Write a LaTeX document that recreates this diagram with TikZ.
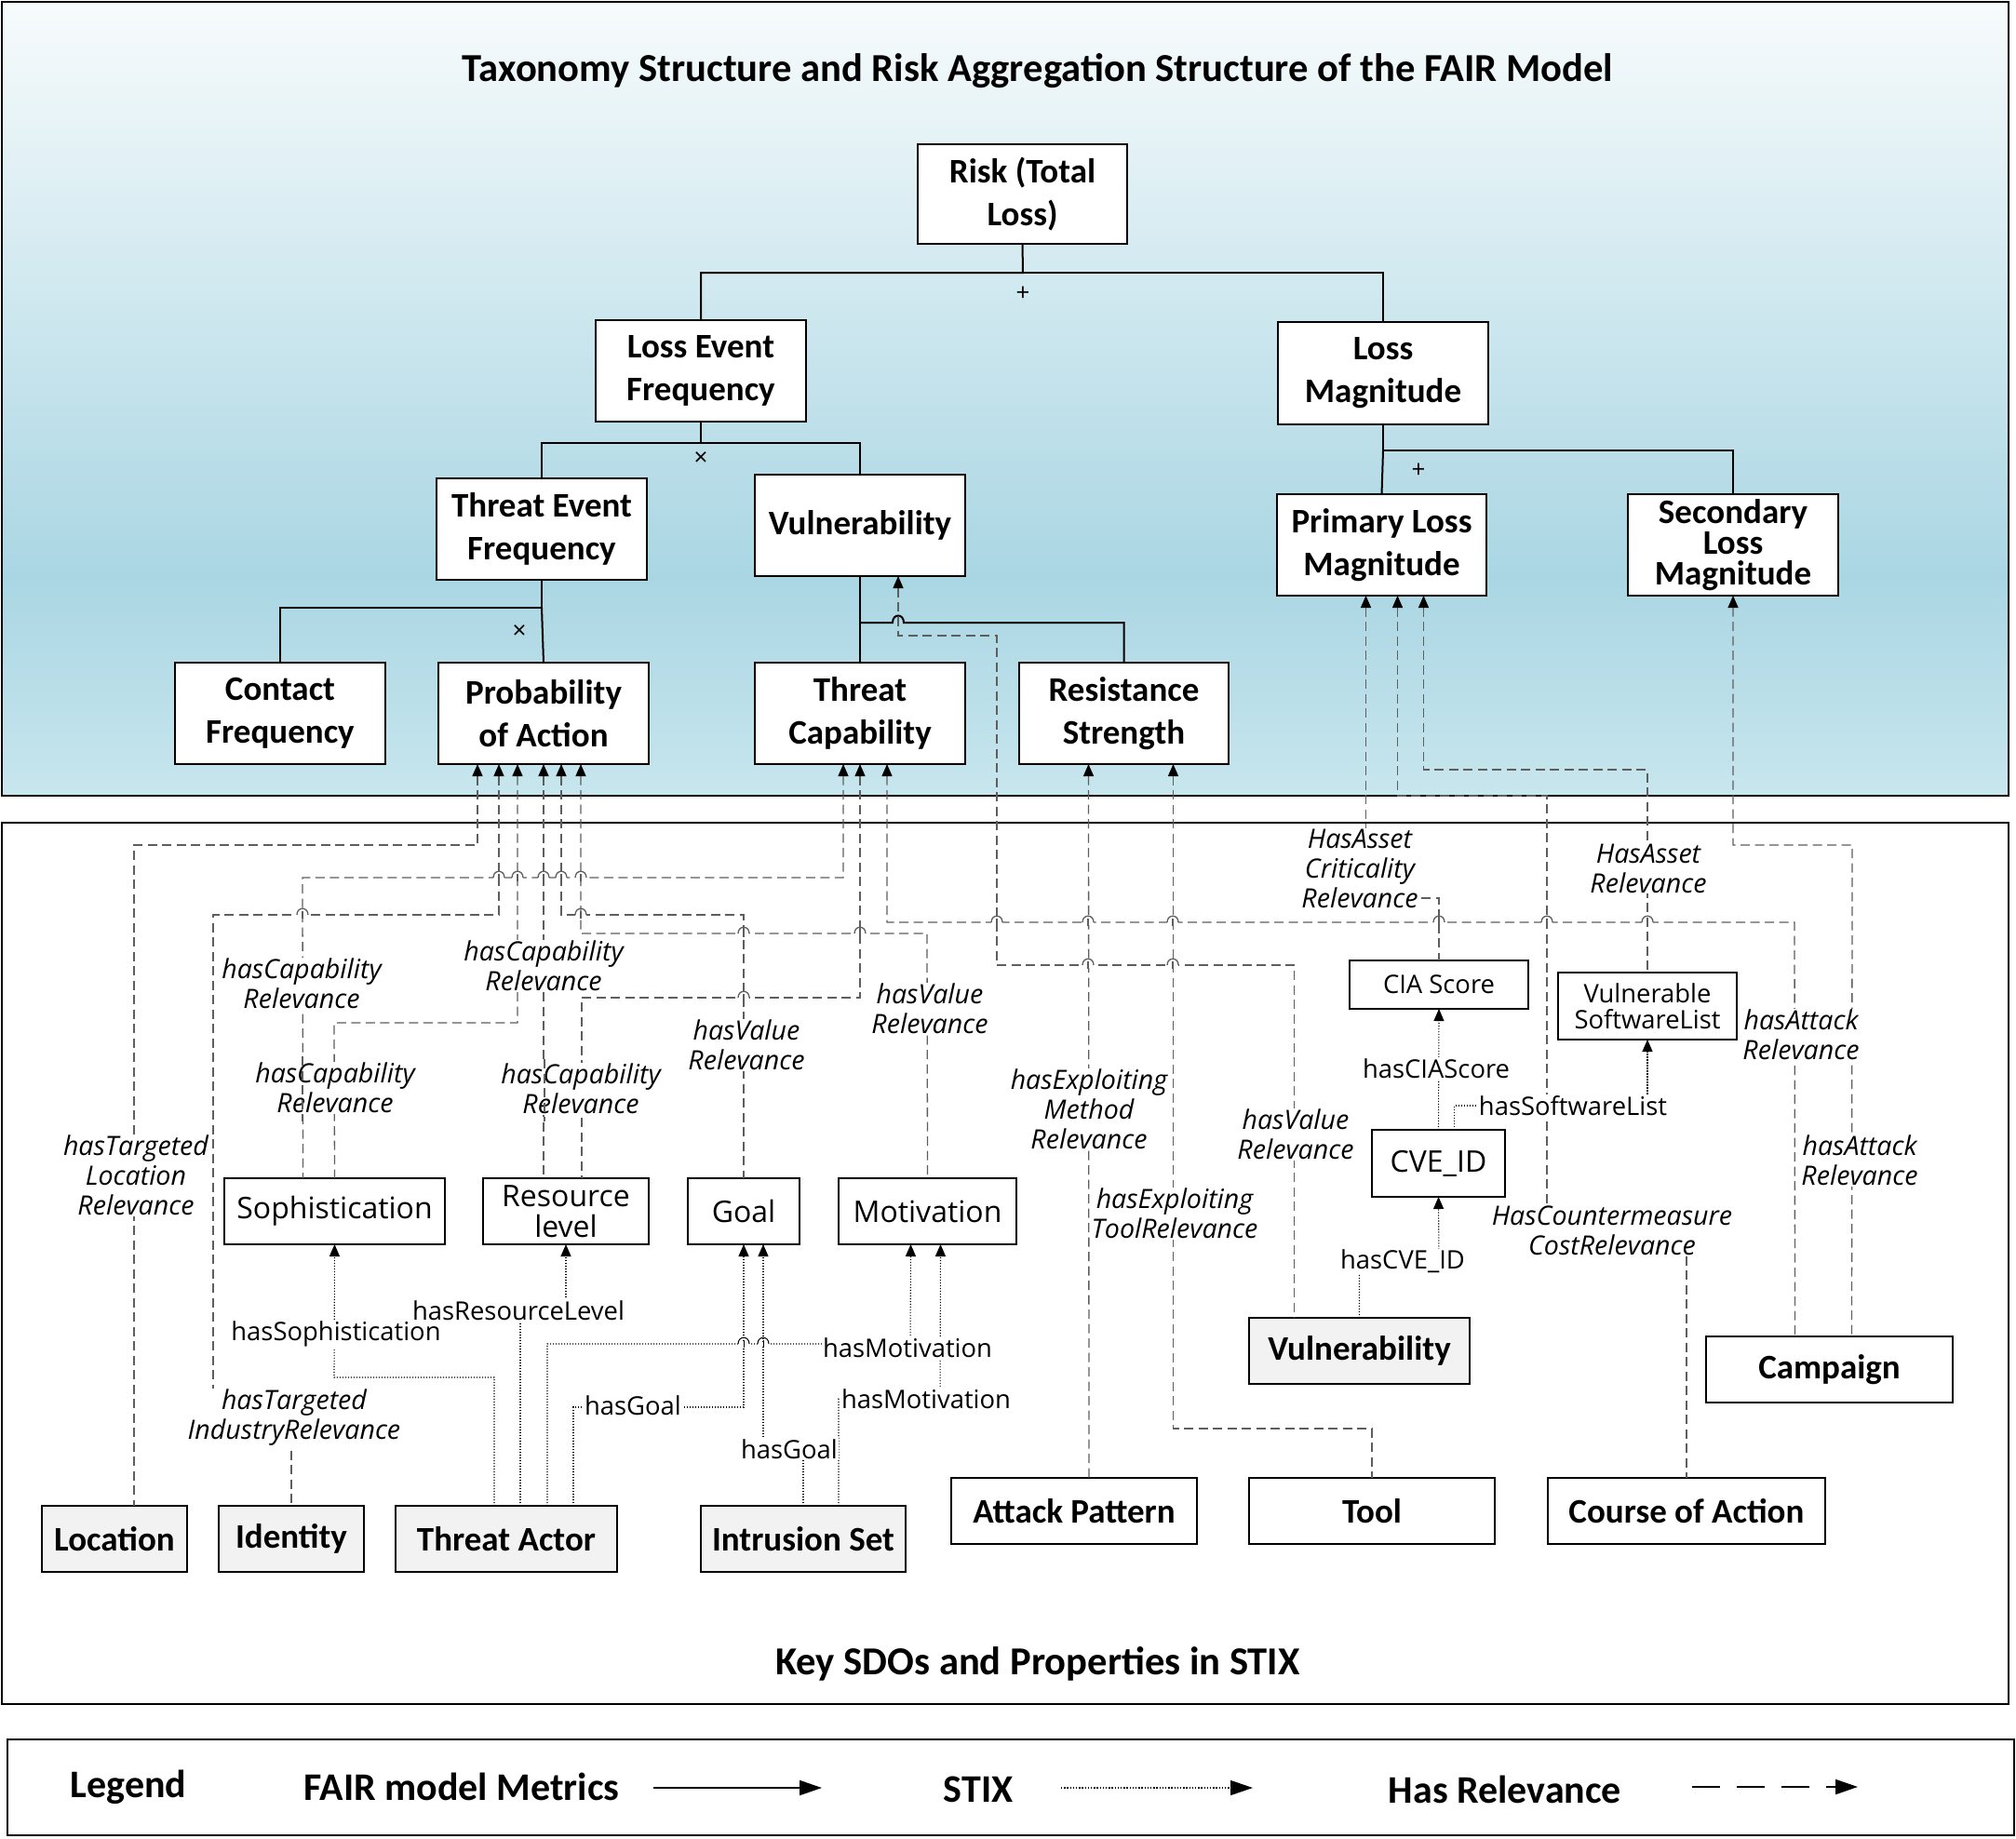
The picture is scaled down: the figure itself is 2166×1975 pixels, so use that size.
\documentclass[tikz,border=0pt]{standalone}
\usepackage{fontspec}
\setmainfont{Open Sans}
\newfontfamily\carl{Carlito}
\usetikzlibrary{arrows.meta,calc}
\definecolor{stixgray}{HTML}{F2F2F2}
\definecolor{relgray}{HTML}{5E5E5E}
\definecolor{topA}{HTML}{F7FBFC}
\definecolor{topB}{HTML}{AAD6E3}
\definecolor{topC}{HTML}{C8E6EE}
\tikzset{
  every node/.style={inner sep=0pt, outer sep=0pt},
  panel/.style={draw=black, line width=1.2pt},
  fairbox/.style={draw=black, line width=1pt, fill=white, align=center,
    font=\carl\bfseries\fontsize{18.5}{23}\selectfont},
  fairtight/.style={fairbox, font=\carl\bfseries\fontsize{18.5}{16.5}\selectfont},
  attrbox/.style={draw=black, line width=0.9pt, fill=white, align=center,
    font=\fontsize{16}{16.5}\selectfont},
  smallbox/.style={draw=black, line width=0.9pt, fill=white, align=center,
    font=\fontsize{13.7}{14}\selectfont},
  sdobox/.style={draw=black, line width=0.9pt, fill=stixgray, align=center,
    font=\carl\bfseries\fontsize{18.5}{21.5}\selectfont},
  sdowhite/.style={sdobox, fill=white},
  titletxt/.style={font=\carl\bfseries\fontsize{21.3}{25}\selectfont},
  legendtxt/.style={font=\carl\bfseries\fontsize{21}{25}\selectfont},
  sym/.style={font=\fontsize{13}{14}\selectfont},
  tree/.style={draw=black, line width=1pt},
  rel/.style={draw=relgray, line width=0.65pt, dash pattern=on 5pt off 2.75pt},
  relsolid/.style={draw=relgray, line width=0.65pt},
  stix/.style={draw=black, line width=0.55pt, dash pattern=on 0.6pt off 0.9pt},
  stixsolid/.style={draw=black, line width=0.5pt},
  tipR/.style={<-, >={Triangle[length=6.5pt,width=5.5pt,color=black]}},
  tipS/.style={->, >={Triangle[length=6.5pt,width=5.5pt,color=black]}},
  lbl/.style={fill=white, inner sep=0.5pt, align=center,
    font=\itshape\fontsize{14.3}{16}\selectfont},
  slbl/.style={fill=white, inner sep=0.5pt, align=center,
    font=\fontsize{13.7}{16}\selectfont},
}
\newcommand{\mkbox}[7]{%
  \pgfmathsetmacro{\mkW}{0.5*(#4-#2)}%
  \pgfmathsetmacro{\mkH}{0.5*(#5-#3)}%
  \pgfmathsetmacro{\mkX}{(#2+#4)/2}%
  \pgfmathsetmacro{\mkY}{(#3+#5)/2}%
  \node[#6, minimum width=\mkW pt, minimum height=\mkH pt] (#1) at (\mkX,\mkY) {#7};%
}
\newcommand{\hopR}[2]{%
  \fill[white] (#1-6,#2-2.5) rectangle (#1+6,#2+2.5);
  \draw[relsolid] (#1,#2-4) -- (#1,#2+4);
  \draw[relsolid] (#1-6,#2) .. controls (#1-6,#2-9) and (#1+6,#2-9) .. (#1+6,#2);}
\newcommand{\hopS}[2]{%
  \fill[white] (#1-6,#2-2.5) rectangle (#1+6,#2+2.5);
  \draw[stixsolid] (#1,#2-4) -- (#1,#2+4);
  \draw[stixsolid] (#1-6,#2) .. controls (#1-6,#2-9) and (#1+6,#2-9) .. (#1+6,#2);}
\begin{document}
\begin{tikzpicture}[x=0.5pt, y=-0.5pt]
\useasboundingbox (0,0) rectangle (2166,1975);
\fill[white] (0,0) rectangle (2166,1975);
% ---------- panels
\shade[top color=topA, bottom color=topB] (2,2) rectangle (2158,620);
\shade[top color=topB, bottom color=topC] (2,619.5) rectangle (2158,855);
\draw[panel] (2,2) rectangle (2158,855);
\draw[panel] (2,884) rectangle (2158,1831);
\draw[panel] (8,1869) rectangle (2164,1972);
\node[titletxt] (title) at (1115,76) {Taxonomy Structure and Risk Aggregation Structure of the FAIR Model};
\node[titletxt] (title2) at (1115,1788) {Key SDOs and Properties in STIX};
% ---------- FAIR boxes
\mkbox{risk}{986}{155}{1211}{262}{fairbox}{Risk (Total\\Loss)}
\mkbox{lef}{640}{344}{866}{453}{fairbox}{Loss Event\\Frequency}
\mkbox{lm}{1373}{346}{1599}{456}{fairbox}{Loss\\Magnitude}
\mkbox{tef}{469}{514}{695}{623}{fairbox}{Threat Event\\Frequency}
\mkbox{vulnT}{811}{510}{1037}{619}{fairbox}{Vulnerability}
\mkbox{plm}{1372}{531}{1597}{640}{fairbox}{Primary Loss\\Magnitude}
\mkbox{slm}{1749}{531}{1975}{640}{fairtight}{Secondary\\Loss\\Magnitude}
\mkbox{cf}{188}{712}{414}{821}{fairbox}{Contact\\Frequency}
\mkbox{poa}{471}{712}{697}{821}{fairbox}{Probability\\of Action}
\mkbox{tc}{811}{712}{1037}{821}{fairbox}{Threat\\Capability}
\mkbox{rs}{1095}{712}{1320}{821}{fairbox}{Resistance\\Strength}
% ---------- STIX boxes
\mkbox{soph}{241}{1266}{478}{1337}{attrbox}{Sophistication}
\mkbox{rl}{519}{1266}{697}{1337}{attrbox}{Resource\\level}
\mkbox{goal}{739}{1266}{859}{1337}{attrbox}{Goal}
\mkbox{mot}{901}{1266}{1092}{1337}{attrbox}{Motivation}
\mkbox{cia}{1450}{1032}{1642}{1084}{smallbox}{CIA Score}
\mkbox{vsl}{1674}{1045}{1866}{1117}{smallbox}{Vulnerable\\SoftwareList}
\mkbox{cve}{1474}{1214}{1617}{1286}{attrbox}{CVE\_ID}
\mkbox{loc}{45}{1618}{201}{1689}{sdobox}{Location}
\mkbox{ident}{235}{1618}{391}{1689}{sdobox}{Identity}
\mkbox{ta}{425}{1618}{663}{1689}{sdobox}{Threat Actor}
\mkbox{iset}{753}{1618}{973}{1689}{sdobox}{Intrusion Set}
\mkbox{ap}{1022}{1588}{1286}{1659}{sdowhite}{Attack Pattern}
\mkbox{tool}{1342}{1588}{1606}{1659}{sdowhite}{Tool}
\mkbox{coa}{1663}{1588}{1961}{1659}{sdowhite}{Course of Action}
\mkbox{vulS}{1342}{1416}{1579}{1487}{sdobox}{Vulnerability}
\mkbox{camp}{1833}{1436}{2098}{1507}{sdowhite}{Campaign}
% ---------- FAIR tree
\draw[tree] (risk.south) -- (1099,293) -| (lef.north);
\draw[tree] (1099,293) -| (lm.north);
\draw[tree] (lef.south) -- (753,476) -| (tef.north);
\draw[tree] (753,476) -| (vulnT.north);
\draw[tree] (lm.south) -- (1486,484) -| (slm.north);
\draw[tree] (1486,484) -- (plm.north);
\draw[tree] (tef.south) -- (582,653) -| (cf.north);
\draw[tree] (582,653) -- (poa.north);
\draw[tree] (vulnT.south) -- (tc.north);
\draw[tree] (924,669) -- (959,669) .. controls (959,659) and (971,659) .. (971,669) -| (rs.north);
\node[sym] (s1) at (1099,316) {+};
\node[sym] (s2) at (753,493) {×};
\node[sym] (s3) at (558,679) {×};
\node[sym] (s4) at (1524,506) {+};
% ---------- Has Relevance connectors
\draw[rel,tipR] ($(poa.south)+(-71,0)$) |- (144,908) -- ($(loc.north)+(21,0)$);
\draw[rel,tipR] ($(poa.south)+(-48,0)$) |- (229,983) -- (229,1525) -| (ident.north);
\draw[rel,tipR] ($(poa.south)+(-28,0)$) |- (359,1099) -- (soph.north);
\draw[rel,tipR] (poa.south) -- (poa.south |- rl.north);
\draw[rel,tipR] ($(poa.south)+(19,0)$) |- (799,983) -- (goal.north);
\draw[rel,tipR] ($(poa.south)+(40,0)$) |- (996,1003) -- (mot.north);
\draw[rel,tipR] ($(tc.south)+(-18,0)$) |- (325,943) -- ($(soph.north)+(-34,0)$);
\draw[rel,tipR] (tc.south) |- (625,1072) -- ($(rl.north)+(17,0)$);
\draw[rel,tipR] ($(tc.south)+(29,0)$) |- (1928,991) -- ($(camp.north)+(-37,0)$);
\draw[rel,tipR] ($(rs.south)+(-38,0)$) -- ($(ap.north)+(16,0)$);
\draw[rel,tipR] ($(rs.south)+(53,0)$) |- (1474,1535) -- (tool.north);
\draw[rel,tipR] ($(plm.south)+(-17,0)$) |- (1546,965) -- (cia.north);
\draw[rel,tipR] ($(plm.south)+(17,0)$) |- (1662,855) -- (1662,1322) -| (coa.north);
\draw[rel,tipR] ($(plm.south)+(45,0)$) |- (1770,827) -- (vsl.north);
\draw[rel,tipR] (slm.south) |- (1990,908) -- ($(camp.north)+(24,0)$);
\draw[rel,tipR] ($(vulnT.south)+(41,0)$) -- (965,683) -| (1071,1037) -| ($(vulS.north)+(-70,0)$);
% ---------- STIX property connectors
\draw[stix,tipS] ($(ta.north)+(-13,0)$) |- (359,1480) -- (soph.south);
\draw[stix,tipS] ($(ta.north)+(15,0)$) |- (608,1408) -- (rl.south);
\draw[stix,tipS] ($(ta.north)+(44,0)$) |- (978,1444) -- ($(mot.south)+(-18,0)$);
\draw[stix,tipS] ($(ta.north)+(72,0)$) |- (799,1512) -- (goal.south);
\draw[stix,tipS] (iset.north) |- (820,1557) -- ($(goal.south)+(21,0)$);
\draw[stix,tipS] ($(iset.north)+(38,0)$) |- (1010,1503) -- ($(mot.south)+(14,0)$);
\draw[stix,tipS] (vulS.north) |- (1546,1355) -- (cve.south);
\draw[stix,tipS] (cve.north) -- (cia.south);
\draw[stix,tipS] ($(cve.north)+(17,0)$) |- (1770,1188) -- (vsl.south);
% ---------- hops
\hopR{536}{943}\hopR{556}{943}\hopR{584}{943}\hopR{603}{943}\hopR{624}{943}
\hopR{325}{983}\hopR{624}{983}
\hopR{799}{1003}\hopR{924}{1003}
\hopR{799}{1072}
\hopR{1071}{991}\hopR{1169}{991}\hopR{1260}{991}\hopR{1546}{991}\hopR{1662}{991}\hopR{1770}{991}
\hopR{1169}{1037}\hopR{1260}{1037}
\hopS{799}{1444}\hopS{820}{1444}
% ---------- labels
\node[lbl] (l1) at (146,1263) {hasTargeted\\Location\\Relevance};
\node[lbl] (l2) at (316,1523) {hasTargeted\\IndustryRelevance};
\node[lbl] (l3) at (324,1057) {hasCapability\\Relevance};
\node[lbl] (l4) at (584,1038) {hasCapability\\Relevance};
\node[lbl] (l5) at (360,1169) {hasCapability\\Relevance};
\node[lbl] (l6) at (624,1170) {hasCapability\\Relevance};
\node[lbl] (l7) at (802,1123) {hasValue\\Relevance};
\node[lbl] (l8) at (999,1084) {hasValue\\Relevance};
\node[lbl] (l9) at (1392,1219) {hasValue\\Relevance};
\node[lbl] (l10) at (1170,1192) {hasExploiting\\Method\\Relevance};
\node[lbl] (l11) at (1262,1304) {hasExploiting\\ToolRelevance};
\node[lbl] (l12) at (1461,933) {HasAsset\\Criticality\\Relevance};
\node[lbl] (l13) at (1771,933) {HasAsset\\Relevance};
\node[lbl] (l14) at (1935,1112) {hasAttack\\Relevance};
\node[lbl] (l15) at (1998,1247) {hasAttack\\Relevance};
\node[lbl] (l16) at (1732,1322) {HasCountermeasure\\CostRelevance};
\node[slbl] (m1) at (361,1433) {hasSophistication};
\node[slbl] (m2) at (557,1408) {hasResourceLevel};
\node[slbl] (m3) at (680,1510) {hasGoal};
\node[slbl] (m4) at (848,1557) {hasGoal};
\node[slbl] (m5) at (975,1448) {hasMotivation};
\node[slbl] (m6) at (995,1503) {hasMotivation};
\node[slbl] (m7) at (1543,1148) {hasCIAScore};
\node[slbl] (m8) at (1690,1188) {hasSoftwareList};
\node[slbl] (m9) at (1507,1355) {hasCVE\_ID};
% lines that run through other connectors' labels
\draw[rel] (325,1135) -- (325,1205);
\draw[rel] (585,1138) -- (585,1205);
% ---------- legend
\node[legendtxt] (lgd) at (138,1920) {Legend};
\node[legendtxt] (lg1) at (496,1920) {FAIR model Metrics};
\node[legendtxt] (lg2) at (1051,1923) {STIX};
\node[legendtxt] (lg3) at (1617,1923) {Has Relevance};
\coordinate (la1) at (702,1921); \coordinate (la2) at (883,1921);
\coordinate (lb1) at (1140,1921); \coordinate (lb2) at (1346,1921);
\coordinate (lc1) at (1818,1920); \coordinate (lc2) at (1996,1920);
\draw[line width=1pt, -{Triangle[length=12pt,width=8pt]}] (la1) -- (la2);
\draw[line width=0.7pt, dash pattern=on 0.7pt off 0.9pt, -{Triangle[length=12pt,width=8pt]}] (lb1) -- (lb2);
\draw[line width=1pt, dash pattern=on 15pt off 9pt, -{Triangle[length=12pt,width=8pt]}] (lc1) -- (lc2);
\end{tikzpicture}
\end{document}
